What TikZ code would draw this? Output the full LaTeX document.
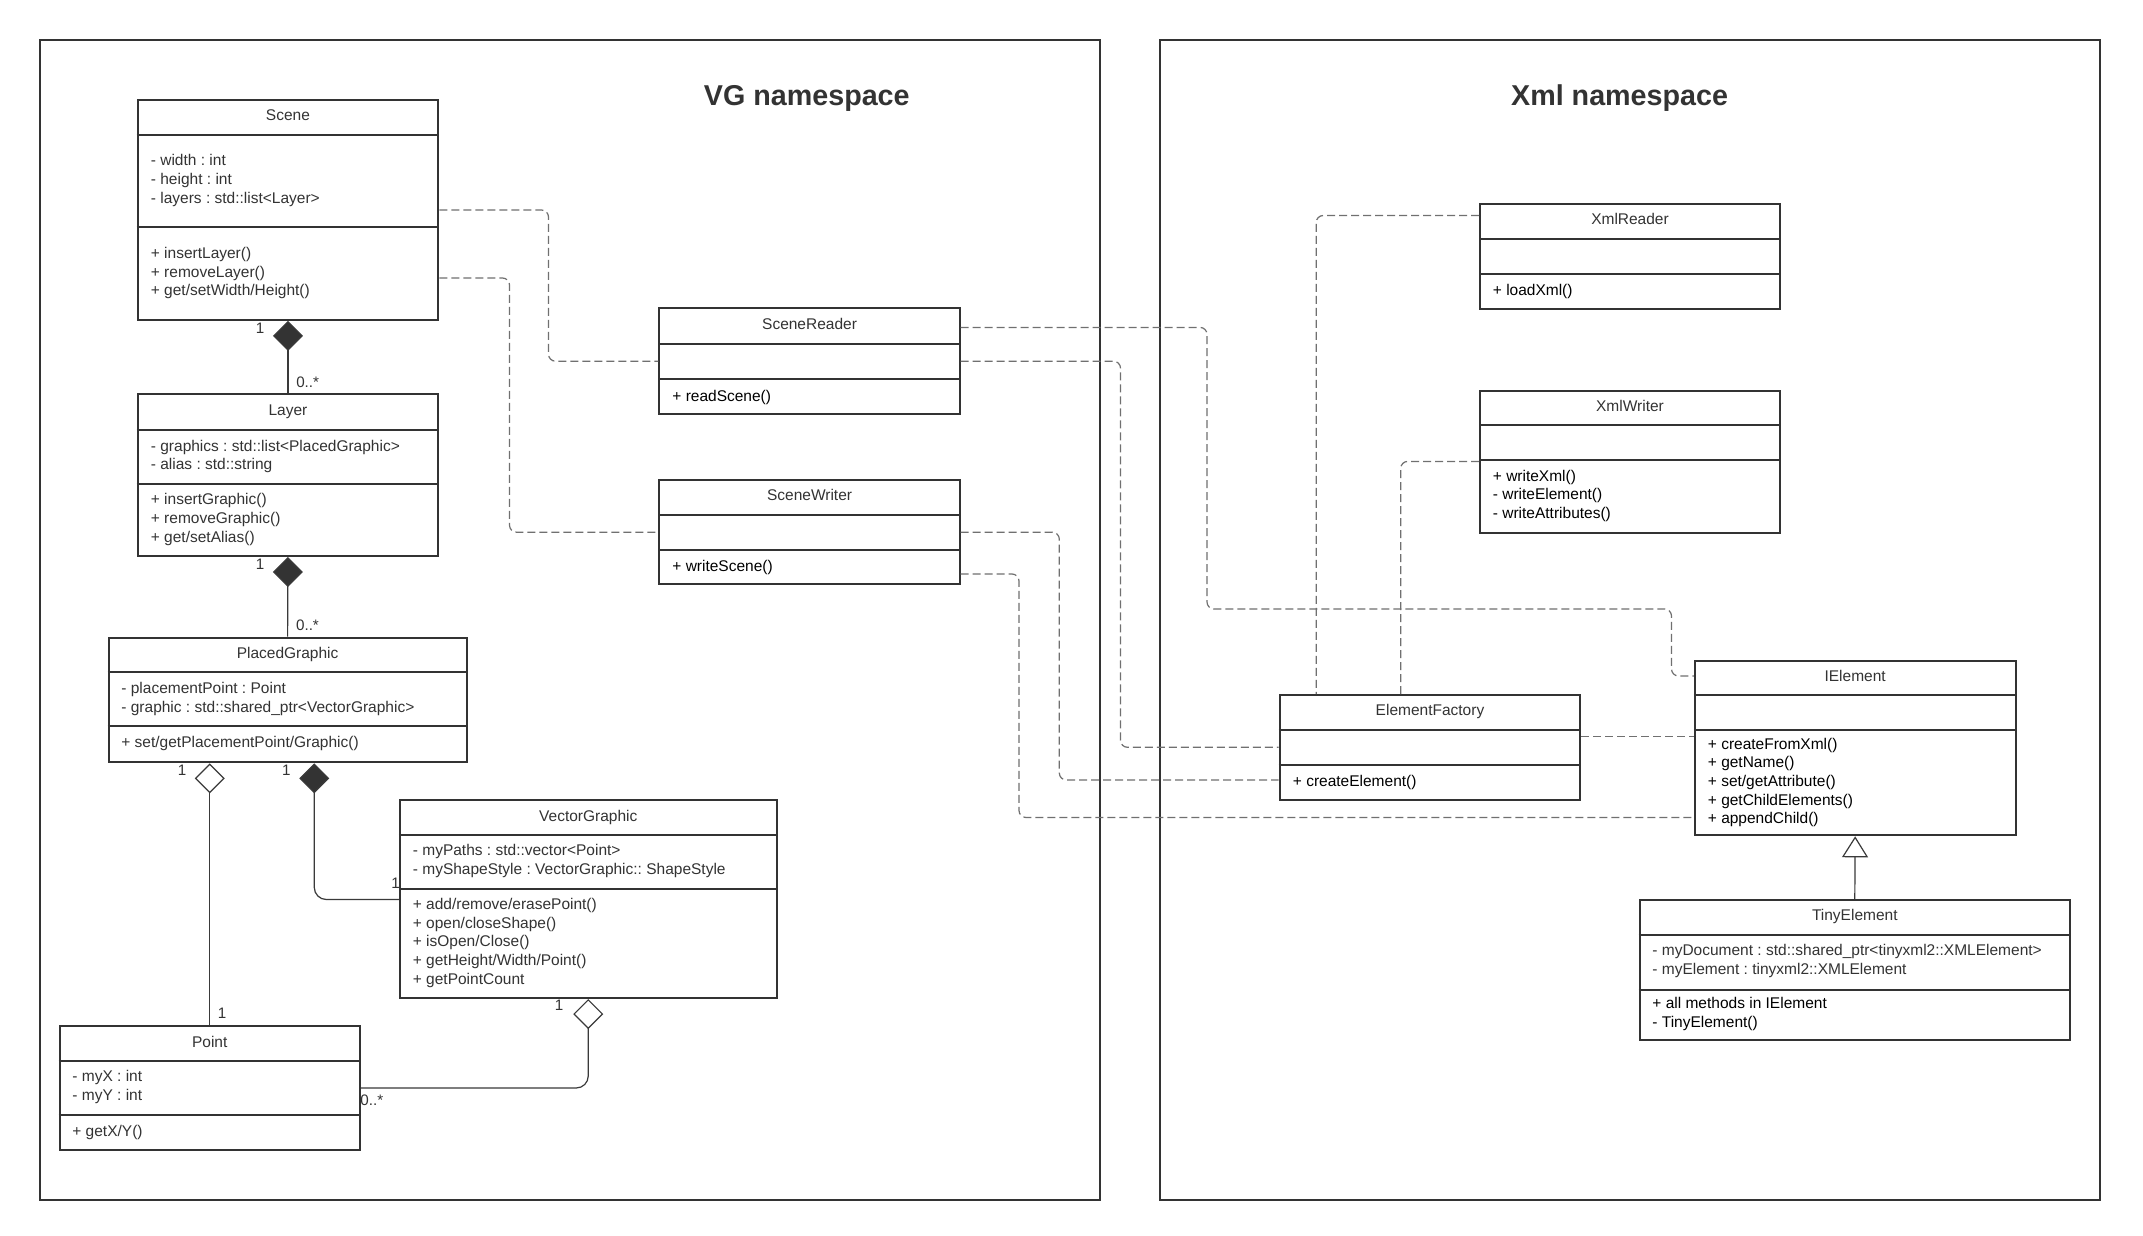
\documentclass[tikz,border=0pt]{standalone}
\usepackage{fontspec}
\setmainfont{Liberation Sans}
\usetikzlibrary{arrows.meta,fit}
\definecolor{dk}{HTML}{333333}
\definecolor{depgrey}{HTML}{707070}
\definecolor{lngrey}{HTML}{3A3A3A}
\frenchspacing
\newcommand\cfont{\fontsize{7.75pt}{9.3pt}\selectfont\frenchspacing}
\newcommand\mfont{\fontsize{7.6pt}{9pt}\selectfont}
\newcommand\umlbox[8]{%
  \node[classbox, fit={(#2,#3) (#4,#5)}] (#1) {};
  \draw[divider] (#1.west |- 0,#6) -- (#1.east |- 0,#6);
  \draw[divider] (#1.west |- 0,#7) -- (#1.east |- 0,#7);
  \node[ctitle] (#1-name) at ({(#2+#4)/2},{(#3+#6)/2-2}) {#8};
}
\begin{document}
\begin{tikzpicture}[x=0.5pt,y=-0.5pt,
  frame/.style={draw=dk, line width=1.2pt, inner sep=0pt},
  classbox/.style={draw=dk, fill=white, line width=1pt, inner sep=0pt},
  divider/.style={draw=dk, line width=1pt},
  ctitle/.style={font=\cfont, text=dk, inner sep=0pt, text height=5.58pt, text depth=0pt},
  ctext/.style={font=\cfont, text=dk, inner sep=0pt, align=left, anchor=west},
  ctextb/.style={ctext, text=black},
  mult/.style={font=\mfont, text=dk, inner sep=0pt},
  nstitle/.style={font=\fontsize{14.35pt}{17pt}\selectfont\bfseries, text=dk, inner sep=0pt, anchor=base},
  dep/.style={draw=depgrey, line width=0.6pt, dash pattern=on 4pt off 2pt, rounded corners=3.5pt},
  assoc/.style={draw=lngrey, line width=0.6pt, rounded corners=6pt},
  comp/.style={assoc, {Diamond[length=15pt,width=15pt,fill=dk]}-},
  aggr/.style={assoc, {Diamond[length=15pt,width=15pt,fill=white]}-},
  gen/.style={assoc, -{Triangle[length=10.5pt,width=13pt,fill=white]}}
]
\useasboundingbox (0,0) rectangle (2143,1236);
\fill[white] (0,0) rectangle (2143,1236);

% namespaces
\node[frame, fit={(40,40) (1100,1200)}] (vgns) {};
\node[frame, fit={(1160,40) (2100,1200)}] (xmlns) {};
\node[nstitle] (vgtitle) at (806.8,106) {VG namespace};
\node[nstitle] (xmltitle) at (1619.6,106) {Xml namespace};

% classes
\umlbox{scene}{137.5}{99.6}{438.4}{319.9}{134.8}{227.4}{Scene}
\node[ctext] (scene-attr) at (150.5,180.5) {- width : int\\- height : int\\- layers : std::list<Layer>};
\node[ctext] (scene-ops) at (150.5,273) {+ insertLayer()\\+ removeLayer()\\+ get/setWidth/Height()};

\umlbox{layer}{137.5}{394.2}{438.4}{556}{429.8}{484}{Layer}
\node[ctext] (layer-attr) at (150.5,456.6) {- graphics : std::list<PlacedGraphic>\\- alias : std::string};
\node[ctext] (layer-ops) at (150.5,519.5) {+ insertGraphic()\\+ removeGraphic()\\+ get/setAlias()};

\umlbox{sreader}{659.4}{308.4}{959.7}{414}{343.6}{378.8}{SceneReader}
\node[ctextb] (sreader-ops) at (672,397) {+ readScene()};

\umlbox{swriter}{659.4}{479.6}{959.7}{584.4}{514.8}{549.6}{SceneWriter}
\node[ctextb] (swriter-ops) at (672,567.7) {+ writeScene()};

\umlbox{pg}{108.7}{637.7}{466.5}{762.3}{672.2}{725.8}{PlacedGraphic}
\node[ctext] (pg-attr) at (121,698.7) {- placementPoint : Point\\- graphic : std::shared\_ptr<VectorGraphic>};
\node[ctext] (pg-ops) at (121,743.5) {+ set/getPlacementPoint/Graphic()};

\umlbox{vg}{399.9}{800}{776.6}{998}{834.9}{889.2}{VectorGraphic}
\node[ctext] (vg-attr) at (412.5,861.2) {- myPaths : std::vector<Point>\\- myShapeStyle : VectorGraphic:: ShapeStyle};
\node[ctext] (vg-ops) at (412.5,942.9) {+ add/remove/erasePoint()\\+ open/closeShape()\\+ isOpen/Close()\\+ getHeight/Width/Point()\\+ getPointCount};

\umlbox{point}{59.6}{1026}{359.9}{1150}{1061.3}{1115.2}{Point}
\node[ctext] (point-attr) at (72,1086.7) {- myX : int\\- myY : int};
\node[ctext] (point-ops) at (72,1132.1) {+ getX/Y()};

\umlbox{xreader}{1480}{203.6}{1780}{308.8}{238.8}{273.6}{XmlReader}
\node[ctextb] (xreader-ops) at (1492.5,291.3) {+ loadXml()};

\umlbox{xwriter}{1480}{390.7}{1780}{533}{425}{459.9}{XmlWriter}
\node[ctextb] (xwriter-ops) at (1492.5,495.9) {+ writeXml()\\- writeElement()\\- writeAttributes()};

\umlbox{efactory}{1279.6}{695}{1580.4}{800}{729.8}{764.7}{ElementFactory}
\node[ctextb] (efactory-ops) at (1292.5,782.5) {+ createElement()};

\umlbox{ielement}{1694.8}{660.9}{2015.5}{835.3}{695.3}{730.2}{IElement}
\node[ctextb] (ielement-ops) at (1707.5,782.5) {+ createFromXml()\\+ getName()\\+ set/getAttribute()\\+ getChildElements()\\+ appendChild()};

\umlbox{tiny}{1639.6}{899.8}{2070}{1039.8}{935}{989.5}{TinyElement}
\node[ctext] (tiny-attr) at (1652,961.1) {- myDocument : std::shared\_ptr<tinyxml2::XMLElement>\\- myElement : tinyxml2::XMLElement};
\node[ctextb] (tiny-ops) at (1652,1014.2) {+ all methods in IElement\\- TinyElement()};

% dependencies
\draw[dep] (scene.east |- 0,210) -- (548.5,210) -- (548.5,361.2) -- (sreader.west |- 0,361.2);
\draw[dep] (scene.east |- 0,278) -- (509.5,278) -- (509.5,532.2) -- (swriter.west |- 0,532.2);
\draw[dep] (sreader.east |- 0,327.4) -- (1207,327.4) -- (1207,609) -- (1671.5,609) -- (1671.5,676) -- (ielement.west |- 0,676);
\draw[dep] (sreader.east |- 0,361.2) -- (1120.5,361.2) -- (1120.5,747.3) -- (efactory.west |- 0,747.3);
\draw[dep] (swriter.east |- 0,532.2) -- (1059.3,532.2) -- (1059.3,780) -- (efactory.west |- 0,780);
\draw[dep] (swriter.east |- 0,574) -- (1019,574) -- (1019,817.5) -- (ielement.west |- 0,817.5);
\draw[dep] (xreader.west |- 0,215.5) -- (1316.2,215.5) -- (efactory.north -| 1316.2,0);
\draw[dep] (xwriter.west |- 0,461.4) -- (1400.7,461.4) -- (efactory.north -| 1400.7,0);
\draw[dep] (efactory.east |- 0,736.3) -- (ielement.west |- 0,736.3);

% associations
\draw[comp] (scene.south) -- (layer.north);
\draw[comp] (layer.south) -- (pg.north);
\draw[aggr] (pg.south -| point.north) -- (point.north);
\draw[comp] (pg.south -| 314.3,0) -- (314.3,899.5) -- (vg.west |- 0,899.5);
\draw[aggr] (vg.south) -- (vg.south |- 0,1088) -- (point.east |- 0,1088);
\draw[gen] (tiny.north) -- (ielement.south);

% multiplicities
\node[mult] (m1) at (260,328.3) {1};
\node[mult] (m2) at (307.7,382.7) {0..*};
\node[mult] (m3) at (260,564.6) {1};
\node[mult] (m4) at (307.5,625.2) {0..*};
\node[mult] (m5) at (182,770) {1};
\node[mult] (m6) at (286.3,770) {1};
\node[mult] (m7) at (395.5,883.3) {1};
\node[mult] (m8) at (222,1013) {1};
\node[mult] (m9) at (559,1005.7) {1};
\node[mult] (m10) at (371.8,1099.8) {0..*};
\end{tikzpicture}
\end{document}
